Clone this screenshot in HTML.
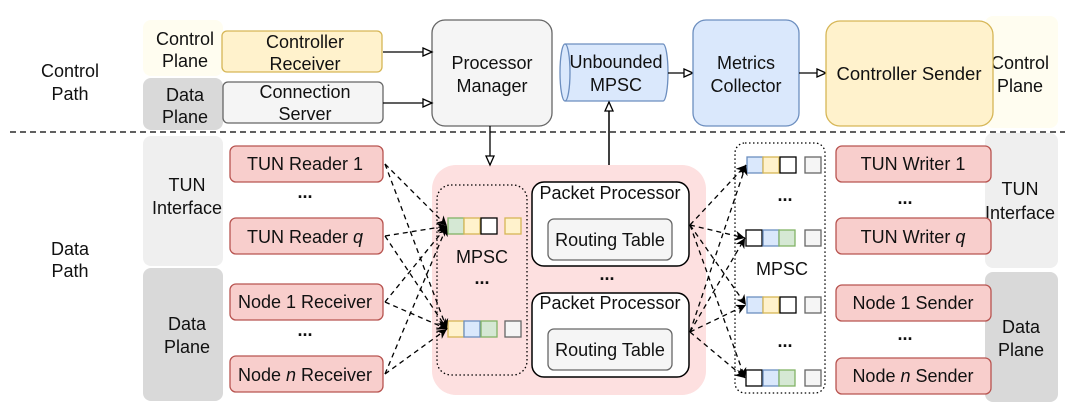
<!DOCTYPE html>
<html><head><meta charset="utf-8"><style>
body{margin:0;background:#fff}
svg{display:block;font-family:"Liberation Sans",Arial,sans-serif}
text{font-size:18px;fill:#111;text-anchor:middle}
</style></head><body>
<svg width="1080" height="419" viewBox="0 0 1080 419" xmlns="http://www.w3.org/2000/svg">
<defs>
<marker id="ot" markerWidth="12" markerHeight="12" refX="10" refY="5" orient="auto" markerUnits="userSpaceOnUse"><path d="M1,1 L10,5 L1,9 Z" fill="#fff" stroke="#000" stroke-width="1.3"/></marker>
<marker id="ft" markerWidth="12" markerHeight="12" refX="10" refY="5" orient="auto" markerUnits="userSpaceOnUse"><path d="M0,0 L10,5 L0,10 L3,5 Z" fill="#000"/></marker>
</defs>
<text x="70" y="77">Control</text><text x="70" y="100">Path</text>
<text x="70" y="255">Data</text><text x="70" y="277">Path</text>
<line x1="10" y1="132" x2="1065" y2="132" stroke="#000" stroke-width="1.3" stroke-dasharray="6,4"/>
<rect x="143" y="20" width="80" height="56" rx="8" fill="#fffdf0"/>
<rect x="143" y="78" width="80" height="52" rx="8" fill="#d9d9d9"/>
<text x="185" y="45">Control</text><text x="185" y="67">Plane</text>
<text x="185" y="101">Data</text><text x="185" y="123">Plane</text>
<rect x="143" y="136" width="80" height="130" rx="8" fill="#efefef"/>
<rect x="143" y="268" width="80" height="133" rx="8" fill="#d9d9d9"/>
<text x="187" y="191">TUN</text><text x="187" y="214">Interface</text>
<text x="187" y="330">Data</text><text x="187" y="353">Plane</text>
<rect x="985" y="16" width="73" height="112" rx="8" fill="#fffdf0"/>
<rect x="985" y="133" width="73" height="135" rx="8" fill="#efefef"/>
<rect x="985" y="272" width="73" height="130" rx="8" fill="#d9d9d9"/>
<text x="1020" y="69">Control</text><text x="1020" y="92">Plane</text>
<text x="1020" y="195">TUN</text><text x="1020" y="219">Interface</text>
<text x="1021" y="333">Data</text><text x="1021" y="356">Plane</text>
<rect x="222" y="31" width="160" height="41" rx="5" fill="#fff2cc" stroke="#d6b656" stroke-width="1.3"/>
<text x="305" y="48">Controller</text><text x="305" y="70">Receiver</text>
<rect x="223" y="82" width="160" height="41" rx="5" fill="#f5f5f5" stroke="#666" stroke-width="1.3"/>
<text x="305" y="98" fill="#333">Connection</text><text x="305" y="120" fill="#333">Server</text>
<rect x="432" y="20" width="120" height="106" rx="13" fill="#f5f5f5" stroke="#666" stroke-width="1.3"/>
<text x="492" y="69" fill="#333">Processor</text><text x="492" y="92" fill="#333">Manager</text>
<line x1="383" y1="52" x2="432" y2="52" stroke="#000" stroke-width="1.3" marker-end="url(#ot)"/>
<line x1="383" y1="103" x2="432" y2="103" stroke="#000" stroke-width="1.3" marker-end="url(#ot)"/>
<path d="M565,44 L663,44 A5,28.5 0 0 1 663,101 L565,101 A5,28.5 0 0 1 565,44 Z" fill="#dae8fc" stroke="#6c8ebf" stroke-width="1.3"/>
<path d="M565,44 A5,28.5 0 0 1 565,101" fill="none" stroke="#6c8ebf" stroke-width="1.3"/>
<text x="616" y="68">Unbounded</text><text x="616" y="91">MPSC</text>
<line x1="668" y1="73" x2="693" y2="73" stroke="#000" stroke-width="1.3" marker-end="url(#ot)"/>
<rect x="693" y="20" width="106" height="106" rx="13" fill="#dae8fc" stroke="#6c8ebf" stroke-width="1.3"/>
<text x="746" y="69">Metrics</text><text x="746" y="92">Collector</text>
<line x1="799" y1="73" x2="826" y2="73" stroke="#000" stroke-width="1.3" marker-end="url(#ot)"/>
<rect x="826" y="21" width="167" height="105" rx="14" fill="#fff2cc" stroke="#d6b656" stroke-width="1.3"/>
<text x="909" y="80" style="font-size:18.5px">Controller Sender</text>
<g fill="#f8cecc" stroke="#b85450" stroke-width="1.3">
<rect x="230" y="146" width="153" height="36" rx="6"/>
<rect x="230" y="218" width="153" height="36" rx="6"/>
<rect x="230" y="284" width="153" height="36" rx="6"/>
<rect x="230" y="356" width="153" height="36" rx="6"/>
<rect x="836" y="146" width="155" height="36" rx="6"/>
<rect x="836" y="218" width="155" height="36" rx="6"/>
<rect x="836" y="285" width="155" height="36" rx="6"/>
<rect x="836" y="358" width="155" height="36" rx="6"/>
</g>
<text x="305" y="170">TUN Reader 1</text><text x="305" y="198" font-weight="bold">...</text>
<text x="305" y="243">TUN Reader <tspan font-style="italic">q</tspan></text>
<text x="305" y="308">Node 1 Receiver</text><text x="305" y="336" font-weight="bold">...</text>
<text x="305" y="381">Node <tspan font-style="italic">n</tspan> Receiver</text>
<text x="913" y="170">TUN Writer 1</text><text x="905" y="204" font-weight="bold">...</text>
<text x="913" y="243">TUN Writer <tspan font-style="italic">q</tspan></text>
<text x="913" y="309">Node 1 Sender</text><text x="905" y="340" font-weight="bold">...</text>
<text x="913" y="382">Node <tspan font-style="italic">n</tspan> Sender</text>
<rect x="432" y="165" width="274" height="230" rx="24" fill="#fde0e0"/>
<rect x="437" y="185" width="90" height="190" rx="14" fill="none" stroke="#000" stroke-width="1.3" stroke-dasharray="1.5,2.5"/>
<text x="482" y="263">MPSC</text><text x="482" y="284" font-weight="bold">...</text>
<g stroke-width="1.3">
<rect x="448" y="218" width="16" height="16" fill="#d5e8d4" stroke="#82b366"/>
<rect x="464" y="218" width="16" height="16" fill="#fff2cc" stroke="#d6b656"/>
<rect x="481" y="218" width="16" height="16" fill="#fff" stroke="#000"/>
<rect x="505" y="218" width="16" height="16" fill="#fff2cc" stroke="#d6b656"/>
<rect x="448" y="321" width="16" height="16" fill="#fff2cc" stroke="#d6b656"/>
<rect x="464" y="321" width="16" height="16" fill="#dae8fc" stroke="#6c8ebf"/>
<rect x="481" y="321" width="16" height="16" fill="#d5e8d4" stroke="#82b366"/>
<rect x="505" y="321" width="16" height="16" fill="#f5f5f5" stroke="#666"/>
</g>
<rect x="532" y="182" width="157" height="84" rx="12" fill="#fff" stroke="#000" stroke-width="1.5"/>
<rect x="548" y="219" width="124" height="41" rx="6" fill="#f5f5f5" stroke="#666" stroke-width="1.3"/>
<text x="610" y="199">Packet Processor</text><text x="610" y="246" fill="#333">Routing Table</text>
<text x="607" y="280" font-weight="bold">...</text>
<rect x="532" y="293" width="157" height="84" rx="12" fill="#fff" stroke="#000" stroke-width="1.5"/>
<rect x="548" y="329" width="124" height="41" rx="6" fill="#f5f5f5" stroke="#666" stroke-width="1.3"/>
<text x="610" y="309">Packet Processor</text><text x="610" y="356" fill="#333">Routing Table</text>
<line x1="490" y1="126" x2="490" y2="165" stroke="#000" stroke-width="1.3" marker-end="url(#ot)"/>
<line x1="609" y1="165" x2="609" y2="102" stroke="#000" stroke-width="1.5" marker-end="url(#ot)"/>
<rect x="735" y="143" width="90" height="250" rx="10" fill="none" stroke="#000" stroke-width="1.3" stroke-dasharray="1.5,2.5"/>
<text x="782" y="275">MPSC</text><text x="785" y="201" font-weight="bold">...</text><text x="785" y="347" font-weight="bold">...</text>
<g stroke-width="1.3">
<rect x="747" y="157" width="16" height="16" fill="#dae8fc" stroke="#6c8ebf"/><rect x="763" y="157" width="16" height="16" fill="#fff2cc" stroke="#d6b656"/><rect x="780" y="157" width="16" height="16" fill="#fff" stroke="#000"/><rect x="805" y="157" width="16" height="16" fill="#f5f5f5" stroke="#666"/>
<rect x="746" y="230" width="16" height="16" fill="#fff" stroke="#000"/><rect x="763" y="230" width="16" height="16" fill="#dae8fc" stroke="#6c8ebf"/><rect x="779" y="230" width="16" height="16" fill="#d5e8d4" stroke="#82b366"/><rect x="805" y="230" width="16" height="16" fill="#f5f5f5" stroke="#666"/>
<rect x="747" y="297" width="16" height="16" fill="#dae8fc" stroke="#6c8ebf"/><rect x="763" y="297" width="16" height="16" fill="#fff2cc" stroke="#d6b656"/><rect x="780" y="297" width="16" height="16" fill="#fff" stroke="#000"/><rect x="805" y="297" width="16" height="16" fill="#f5f5f5" stroke="#666"/>
<rect x="746" y="370" width="16" height="16" fill="#fff" stroke="#000"/><rect x="763" y="370" width="16" height="16" fill="#dae8fc" stroke="#6c8ebf"/><rect x="779" y="370" width="16" height="16" fill="#d5e8d4" stroke="#82b366"/><rect x="805" y="370" width="16" height="16" fill="#f5f5f5" stroke="#666"/>
</g>
<g stroke="#000" stroke-width="1.3" stroke-dasharray="5,4" fill="none" marker-end="url(#ft)">
<line x1="385" y1="164" x2="447" y2="226"/><line x1="385" y1="164" x2="447" y2="329"/>
<line x1="385" y1="236" x2="447" y2="226"/><line x1="385" y1="236" x2="447" y2="329"/>
<line x1="385" y1="302" x2="447" y2="226"/><line x1="385" y1="302" x2="447" y2="329"/>
<line x1="385" y1="374" x2="447" y2="226"/><line x1="385" y1="374" x2="447" y2="329"/>
<line x1="690" y1="225" x2="746" y2="165"/><line x1="690" y1="225" x2="745" y2="238"/>
<line x1="690" y1="225" x2="746" y2="305"/><line x1="690" y1="225" x2="745" y2="378"/>
<line x1="690" y1="332" x2="746" y2="165"/><line x1="690" y1="332" x2="745" y2="238"/>
<line x1="690" y1="332" x2="746" y2="305"/><line x1="690" y1="332" x2="745" y2="378"/>
</g>
</svg>
</body></html>
